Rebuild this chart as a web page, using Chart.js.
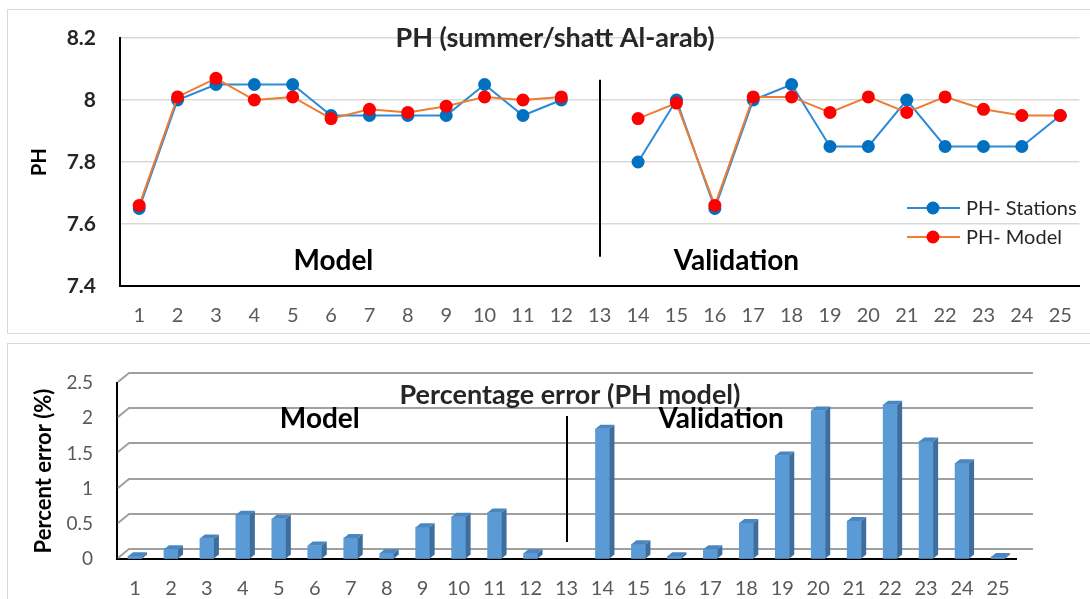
<!DOCTYPE html>
<html lang="en">
<head>
<meta charset="UTF-8">
<title>PH (summer/shatt Al-arab)</title>
<script src="https://cdn.jsdelivr.net/npm/chart.js"></script>
<style>
  body, html {
    margin: 0;
    height: 100%;
    background: #fff;
    overflow: hidden;
    font-family: Lato, sans-serif;
  }
  .panel {
    position: absolute;
    left: 7px;
    width: 1100px;
    border: 1.5px solid #d9d9d9;
    box-sizing: border-box;
  }
  #p1 { top: 9px; height: 325px; }
  #p2 { top: 343px; height: 300px; }
  .box {
    position: absolute;
    left: 0;
    width: 1090px;
  }
  #b1 { top: 0; height: 336px; }
  #b2 { top: 336px; height: 263px; }
</style>
</head>
<body>
<div class="panel" id="p1"></div>
<div class="panel" id="p2"></div>
<div class="box" id="b1"><canvas id="phChart"></canvas></div>
<div class="box" id="b2"><canvas id="errChart"></canvas></div>

<script>
// stations 1..25 (13 is the gap between model and validation)
const stations = ['1','2','3','4','5','6','7','8','9','10','11','12','13',
  '14','15','16','17','18','19','20','21','22','23','24','25'];

const phStations = [7.65, 8.00, 8.05, 8.05, 8.05, 7.95, 7.95, 7.95, 7.95, 8.05, 7.95, 8.00, null,
  7.80, 8.00, 7.65, 8.00, 8.05, 7.85, 7.85, 8.00, 7.85, 7.85, 7.85, 7.95];
const phModel = [7.66, 8.01, 8.07, 8.00, 8.01, 7.94, 7.97, 7.96, 7.98, 8.01, 8.00, 8.01, null,
  7.94, 7.99, 7.66, 8.01, 8.01, 7.96, 8.01, 7.96, 8.01, 7.97, 7.95, 7.95];

const pctError = [0.04, 0.14, 0.29, 0.63, 0.57, 0.19, 0.30, 0.08, 0.45, 0.60, 0.66, 0.08, null,
  1.85, 0.21, 0.04, 0.14, 0.51, 1.47, 2.11, 0.54, 2.19, 1.67, 1.36, 0.03];

const phTicks = [7.4, 7.6, 7.8, 8.0, 8.2];
const errTicks = [0, 0.5, 1, 1.5, 2, 2.5];

Chart.defaults.font.family = 'Lato, sans-serif';
Chart.defaults.animation = false;

// titles, "Model"/"Validation" labels and the divider at station 13
const notes = {
  id: 'notes',
  afterDraw(chart, args, o) {
    const ctx = chart.ctx;
    const xs = chart.scales.x, ys = chart.scales.y;
    ctx.save();
    ctx.fillStyle = '#262626';
    ctx.font = 'bold 27px Lato';
    ctx.textAlign = 'center';
    ctx.textBaseline = 'middle';
    ctx.fillText(o.title, o.titleX, ys.getPixelForValue(o.titleY));

    ctx.fillStyle = '#000';
    ctx.font = 'bold 28px Lato';
    ctx.fillText('Model', xs.getPixelForValue(o.model[0]), ys.getPixelForValue(o.model[1]));
    ctx.fillText('Validation', xs.getPixelForValue(o.valid[0]), ys.getPixelForValue(o.valid[1]));

    // divider
    const dx = Math.round(xs.getPixelForValue(12));
    ctx.strokeStyle = '#000';
    ctx.lineWidth = 2;
    ctx.beginPath();
    ctx.moveTo(dx, ys.getPixelForValue(o.divider[0]));
    ctx.lineTo(dx, ys.getPixelForValue(o.divider[1]));
    ctx.stroke();

    if (o.legend) {
      const items = [
        {label: 'PH- Stations', line: '#2E8AD8', dot: '#0070C0', y: 208},
        {label: 'PH- Model', line: '#ED7D31', dot: '#FF0000', y: 237}
      ];
      ctx.textAlign = 'left';
      ctx.font = '20px Lato';
      items.forEach(it => {
        ctx.strokeStyle = it.line;
        ctx.lineWidth = 2;
        ctx.beginPath();
        ctx.moveTo(907, it.y);
        ctx.lineTo(960, it.y);
        ctx.stroke();
        ctx.fillStyle = it.dot;
        ctx.beginPath();
        ctx.arc(933, it.y, 6.5, 0, Math.PI * 2);
        ctx.fill();
        ctx.fillStyle = '#262626';
        ctx.fillText(it.label, 966, it.y + 1);
      });
    }
    ctx.restore();
  }
};

// 3D look: back-wall gridlines, then side and top faces of the columns
const columns3d = {
  id: 'columns3d',
  beforeDatasetsDraw(chart) {
    const ctx = chart.ctx;
    const ys = chart.scales.y;
    const left = ys.right, right = chart.scales.x.right;
    ctx.save();
    ctx.strokeStyle = '#a0a0a0';
    ctx.lineWidth = 2;
    for (let i = 0; i < errTicks.length; i++) {
      const py = Math.round(ys.getPixelForValue(errTicks[i])) - 10;
      ctx.beginPath();
      ctx.moveTo(left + 1, py + 9);
      ctx.lineTo(left + 12, py);
      ctx.lineTo(right + 17, py);
      ctx.stroke();
    }
    ctx.restore();
  },
  afterDatasetsDraw(chart) {
    const ctx = chart.ctx;
    const d = 5, h = 4;
    ctx.save();
    chart.getDatasetMeta(0).data.forEach((bar, i) => {
      if (pctError[i] == null) return;
      const l = bar.x - bar.width / 2, r = bar.x + bar.width / 2;
      ctx.fillStyle = '#3D6E9E';
      ctx.beginPath();
      ctx.moveTo(r, bar.y);
      ctx.lineTo(r + d, bar.y - h);
      ctx.lineTo(r + d, bar.base - h);
      ctx.lineTo(r, bar.base);
      ctx.closePath();
      ctx.fill();
      ctx.fillStyle = '#4A86C0';
      ctx.beginPath();
      ctx.moveTo(l, bar.y);
      ctx.lineTo(l + d, bar.y - h);
      ctx.lineTo(r + d, bar.y - h);
      ctx.lineTo(r, bar.y);
      ctx.closePath();
      ctx.fill();
    });
    ctx.restore();
  }
};

new Chart(document.getElementById('phChart'), {
  type: 'line',
  data: {
    labels: stations,
    datasets: [{
      label: 'PH- Model',
      data: phModel,
      order: 0,
      borderColor: '#ED7D31',
      borderWidth: 2,
      pointRadius: 6.5,
      pointBackgroundColor: '#FF0000',
      pointBorderColor: '#FF0000',
      pointBorderWidth: 0,
      tension: 0,
      spanGaps: false
    }, {
      label: 'PH- Stations',
      data: phStations,
      order: 1,
      borderColor: '#2E8AD8',
      borderWidth: 2,
      pointRadius: 6.5,
      pointBackgroundColor: '#0070C0',
      pointBorderColor: '#0070C0',
      pointBorderWidth: 0,
      tension: 0,
      spanGaps: false
    }]
  },
  options: {
    responsive: true,
    maintainAspectRatio: false,
    layout: { padding: { left: 0, right: 8, top: 38, bottom: 0 } },
    plugins: {
      legend: { display: false },
      tooltip: { enabled: false },
      notes: {
        title: 'PH (summer/shatt Al-arab)', titleX: 555, titleY: 8.2,
        model: [5.06, 7.48], valid: [15.56, 7.48], divider: [8.065, 7.494],
        legend: true
      }
    },
    scales: {
      x: {
        offset: true,
        grid: { display: true, drawOnChartArea: false, drawTicks: false },
        border: { display: true, color: '#000', width: 2 },
        ticks: { color: '#595959', font: { size: 20 }, padding: 18, maxRotation: 0, autoSkip: false },
        afterFit: s => { s.height = 50; }
      },
      y: {
        min: 7.4,
        max: 8.2,
        afterBuildTicks: s => { s.ticks = phTicks.map(v => ({value: v})); },
        grid: { color: '#d9d9d9', lineWidth: 1.5, drawTicks: false },
        border: { display: true, color: '#000', width: 2 },
        ticks: {
          color: '#262626', font: { size: 21, weight: 'bold' }, padding: 24,
          callback: v => String(+v.toFixed(1))
        },
        title: { display: true, text: 'PH', color: '#000', font: { size: 20, weight: 'bold' }, padding: { top: 28 } },
        afterFit: s => { s.width = 120; }
      }
    }
  },
  plugins: [notes]
});

new Chart(document.getElementById('errChart'), {
  type: 'bar',
  data: {
    labels: stations,
    datasets: [{
      label: 'Percent error',
      data: pctError,
      backgroundColor: '#5B9BD5',
      barThickness: 14
    }]
  },
  options: {
    responsive: true,
    maintainAspectRatio: false,
    layout: { padding: { left: 0, right: 74, top: 47, bottom: 0 } },
    plugins: {
      legend: { display: false },
      tooltip: { enabled: false },
      notes: {
        title: 'Percentage error (PH model)', titleX: 570, titleY: 2.33,
        model: [5.14, 1.99], valid: [16.3, 1.99], divider: [2.03, 0.24],
        legend: false
      }
    },
    scales: {
      x: {
        grid: { display: true, drawOnChartArea: false, drawTicks: false },
        border: { display: true, color: '#000', width: 2 },
        ticks: { color: '#595959', font: { size: 20 }, padding: 18, maxRotation: 0, autoSkip: false },
        afterFit: s => { s.height = 40; }
      },
      y: {
        min: 0,
        max: 2.5,
        afterBuildTicks: s => { s.ticks = errTicks.map(v => ({value: v})); },
        grid: { display: true, drawOnChartArea: false, drawTicks: false },
        border: { display: true, color: '#000', width: 2 },
        ticks: { color: '#595959', font: { size: 19 }, padding: 24, callback: v => String(v) },
        title: { display: true, text: 'Percent error (%)', color: '#000', font: { size: 22, weight: 'bold' }, padding: { top: 31 } },
        afterFit: s => { s.width = 117; }
      }
    }
  },
  plugins: [columns3d, notes]
});
</script>
</body>
</html>
